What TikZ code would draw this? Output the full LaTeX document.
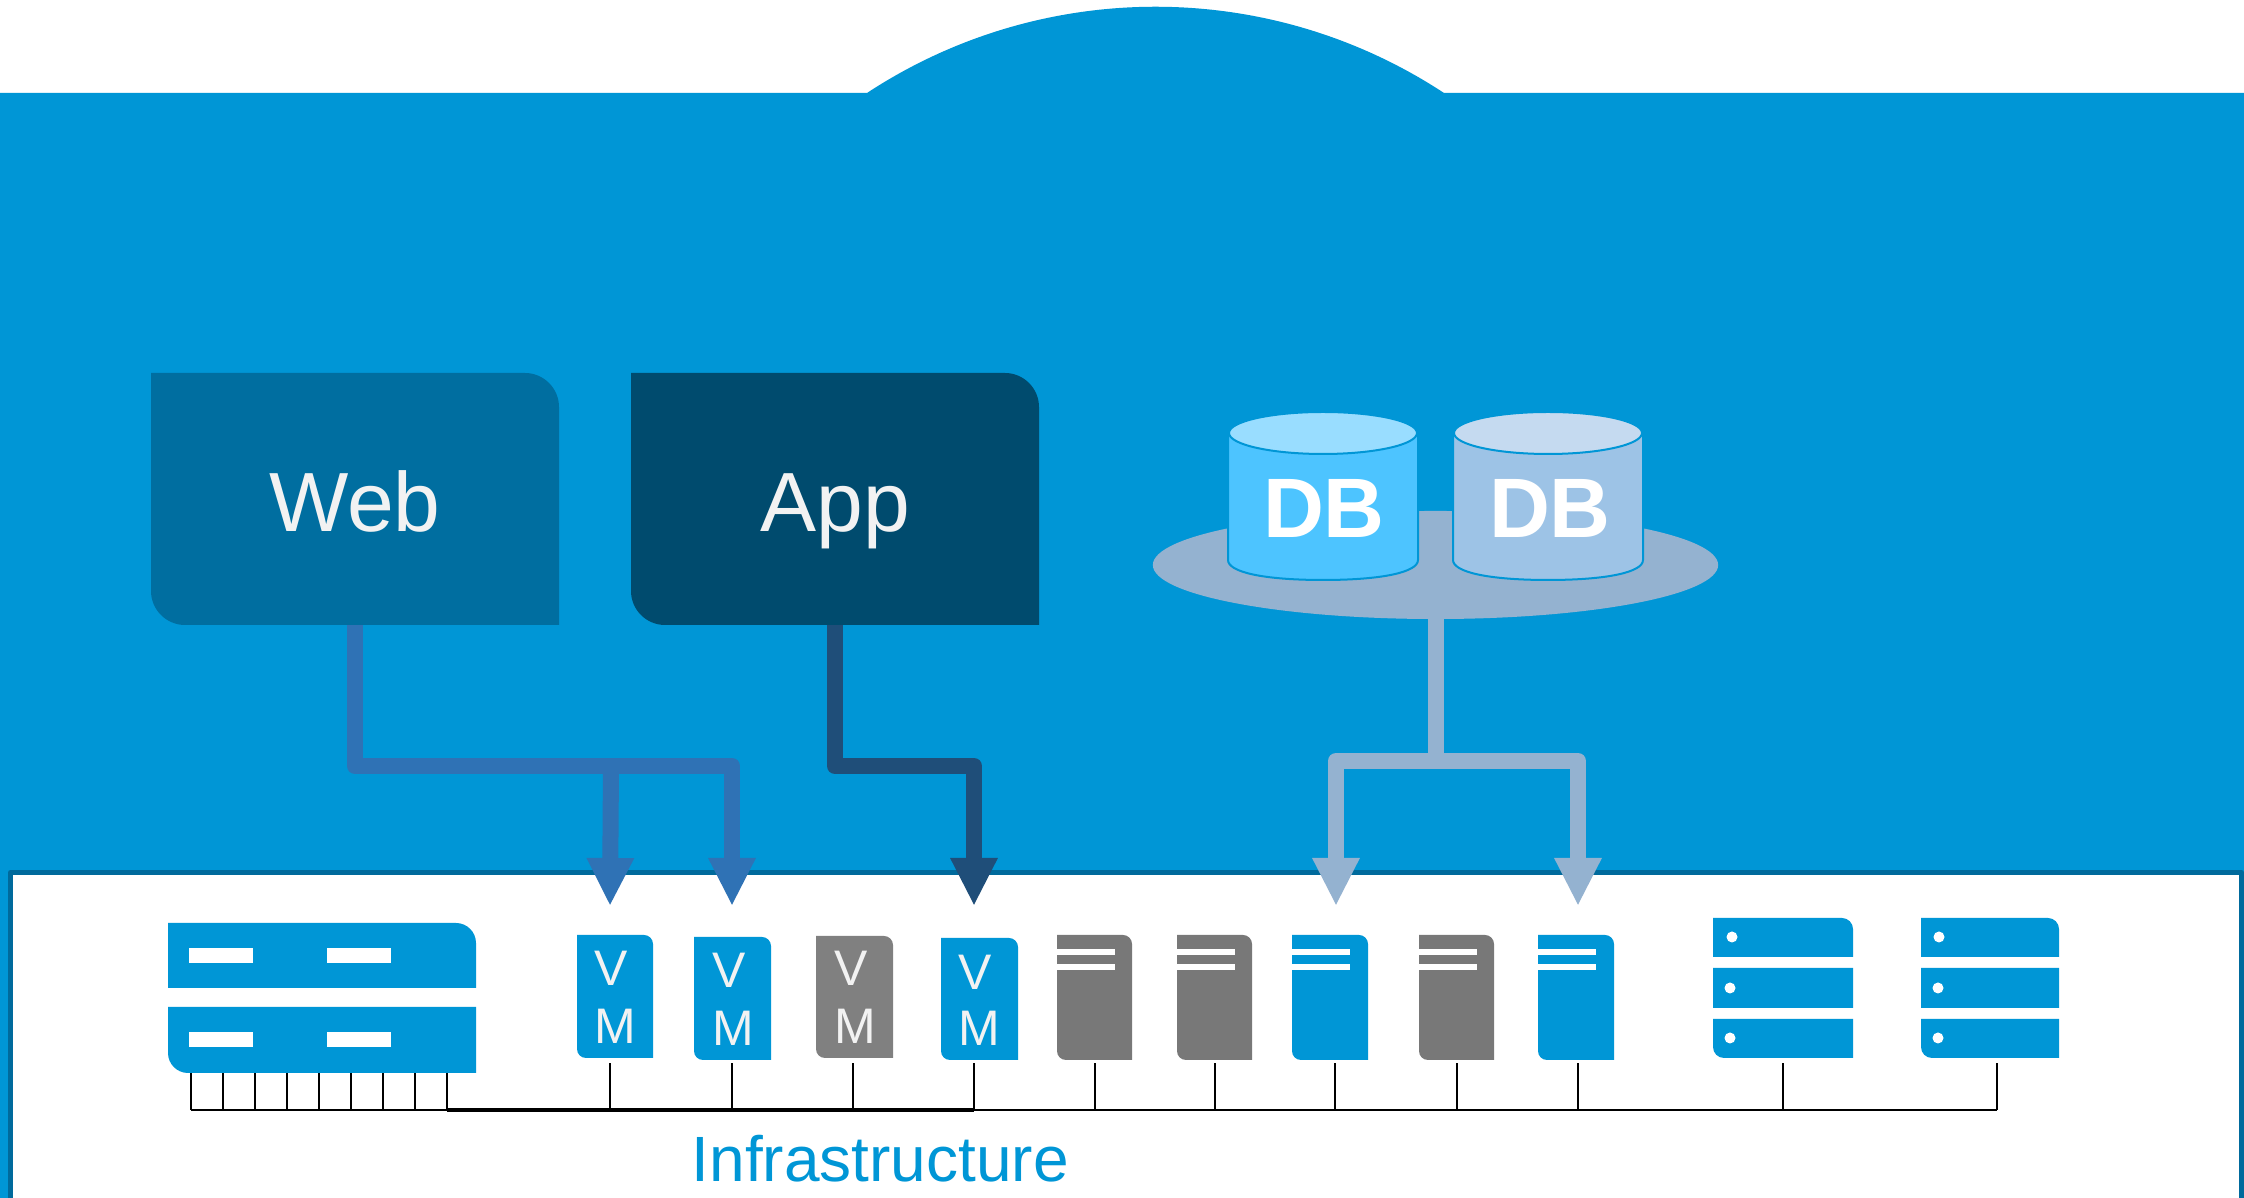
\documentclass[tikz,border=0pt]{standalone}
\usepackage{fontspec}
\setmainfont{Liberation Sans}
\usetikzlibrary{arrows.meta,shapes.geometric}
\definecolor{bgblue}{HTML}{0096D6}
\definecolor{edgeblue}{HTML}{006A9C}
\definecolor{webfill}{HTML}{006EA0}
\definecolor{appfill}{HTML}{004B6E}
\definecolor{webline}{HTML}{2F72B5}
\definecolor{appline}{HTML}{1F4E79}
\definecolor{dbline}{HTML}{94B2D0}
\definecolor{vmgray}{HTML}{808080}
\definecolor{srvgray}{HTML}{787878}
\definecolor{cylA}{HTML}{4DC4FF}
\definecolor{cylAtop}{HTML}{99DDFF}
\definecolor{cylB}{HTML}{9DC3E6}
\definecolor{cylBtop}{HTML}{C5DAF0}
\definecolor{softwhite}{HTML}{F2F2F2}
\tikzset{
  anchorbox/.style={inner sep=0pt,outer sep=0pt,draw=none,rectangle},
  bigtxt/.style={text=softwhite,text height=0.64cm,text depth=0pt,font=\fontsize{23.9}{24}\selectfont},
  vmtxt/.style={inner sep=0pt,text=softwhite,font=\fontsize{14.2}{15}\selectfont},
  dbtxt/.style={inner sep=0pt,text=white,font=\bfseries\fontsize{24}{25}\selectfont},
  slot/.style={fill=white,draw=none},
  conn/.style={line width=0.16cm,line join=round,-{Triangle[width=0.44cm,length=0.48cm]}},
  twoconn/.style={line width=0.16cm,line join=round,{Triangle[width=0.44cm,length=0.48cm]}-{Triangle[width=0.44cm,length=0.48cm]}},
  connplain/.style={line width=0.16cm,line join=round},
  tick/.style={draw=black,line width=0.02cm},
  cylout/.style={draw=bgblue,line width=0.02cm},
}
% name, x1, y1, x2, y2, top-right radius, bottom-left radius, colour, node text style, text
\newcommand{\tile}[9]{%
  \fill[#8] (#2,#3) -- ({#4-#6},#3) .. controls ({#4-0.45*#6},#3) and (#4,{#3+0.45*#6}) .. (#4,{#3+#6})
    -- (#4,#5) -- ({#2+#7},#5) .. controls ({#2+0.45*#7},#5) and (#2,{#5-0.45*#7}) .. (#2,{#5-#7}) -- cycle;
  \node[anchorbox,minimum width={(#4-#2)*0.01cm},minimum height={(#5-#3)*0.01cm},#9]
    (#1) at ({(#2+#4)/2},{(#3+#5)/2})}
\begin{document}
\begin{tikzpicture}[x=0.01cm,y=-0.01cm]
\useasboundingbox (0,0) rectangle (2244,1198);
\fill[white] (0,0) rectangle (2244,1198);
% blue background with bump
\fill[bgblue] (0,93) -- (867,93) .. controls (1042,-22) and (1269,-22) .. (1444,93)
  -- (2244,93) -- (2244,1198) -- (0,1198) -- cycle;
% infrastructure panel
\fill[white] (10.5,872.5) rectangle (2241.5,1198);
\draw[edgeblue,line width=0.05cm,line join=round] (10.5,1198) -- (10.5,872.5) -- (2241.5,872.5) -- (2241.5,1198);

% Web and App
\tile{web}{151}{373}{559}{625}{34}{34}{webfill}{bigtxt}{Web};
\tile{app}{631}{373}{1039}{625}{34}{34}{appfill}{bigtxt}{App};

% DB platter and cylinders
\node[ellipse,fill=dbline,draw=none,inner sep=0pt,outer sep=0pt,minimum width=5.65cm,minimum height=1.08cm] (platter) at (1435.5,565) {};
\draw[cylout,fill=cylA] (1228,433) -- (1228,560) .. controls (1228,572) and (1263,580) .. (1323,580)
  .. controls (1383,580) and (1418,572) .. (1418,560) -- (1418,433) -- cycle;
\draw[cylout,fill=cylAtop] (1323,433) ellipse [x radius=94,y radius=21];
\node[dbtxt] (db1) at (1324,508) {DB};
\draw[cylout,fill=cylB] (1453,433) -- (1453,560) .. controls (1453,572) and (1488,580) .. (1548,580)
  .. controls (1608,580) and (1643,572) .. (1643,560) -- (1643,433) -- cycle;
\draw[cylout,fill=cylBtop] (1548,433) ellipse [x radius=94,y radius=21];
\node[dbtxt] (db2) at (1550,508) {DB};

% switch
\tile{swtop}{168}{923}{476}{988}{20}{0}{bgblue}{}{};
\tile{swlow}{168}{1007}{476}{1073}{0}{20}{bgblue}{}{};
\foreach \x in {189,327}{
  \fill[slot] (\x,948) rectangle ++(64,15);
  \fill[slot] (\x,1032) rectangle ++(64,15);
}

% VMs
\tile{vma}{577}{935}{653}{1058}{9}{9}{bgblue}{}{};
\tile{vmb}{694}{937}{771}{1060}{9}{9}{bgblue}{}{};
\tile{vmc}{816}{936}{893}{1058}{9}{9}{vmgray}{}{};
\tile{vmd}{941}{938}{1018}{1060}{9}{9}{bgblue}{}{};
\node[vmtxt] (vmaV) at (611,968) {V}; \node[vmtxt] (vmaM) at (615,1026) {M};
\node[vmtxt] (vmbV) at (729,970) {V}; \node[vmtxt] (vmbM) at (733,1028) {M};
\node[vmtxt] (vmcV) at (851,968) {V}; \node[vmtxt] (vmcM) at (855,1026) {M};
\node[vmtxt] (vmdV) at (975,972) {V}; \node[vmtxt] (vmdM) at (979,1028) {M};

% servers
\tile{sa}{1057}{935}{1132}{1060}{9}{9}{srvgray}{}{};
\tile{sb}{1177}{935}{1252}{1060}{9}{9}{srvgray}{}{};
\tile{sc}{1292}{935}{1368}{1060}{9}{9}{bgblue}{}{};
\tile{sd}{1419}{935}{1494}{1060}{9}{9}{srvgray}{}{};
\tile{se}{1538}{935}{1614}{1060}{9}{9}{bgblue}{}{};
\foreach \x in {1057,1177,1292,1419,1538}{
  \fill[slot] (\x,949) rectangle ++(58,6);
  \fill[slot] (\x,964) rectangle ++(58,6);
}

% racks
\tile{ra}{1713}{918}{1853}{957}{11}{0}{bgblue}{}{};
\tile{rb}{1713}{968}{1853}{1008}{0}{0}{bgblue}{}{};
\tile{rc}{1713}{1019}{1853}{1058}{0}{11}{bgblue}{}{};
\tile{rd}{1921}{918}{2059}{957}{11}{0}{bgblue}{}{};
\tile{re}{1921}{968}{2059}{1008}{0}{0}{bgblue}{}{};
\tile{rf}{1921}{1019}{2059}{1058}{0}{11}{bgblue}{}{};
\foreach \x/\y in {1732/937,1730/988,1730/1038,1939/937,1938/988,1938/1038}{
  \fill[white] (\x,\y) circle [radius=5.5];
}

% bus and ticks
\coordinate (busL) at (191,1110);
\coordinate (busA) at (255,1110);
\coordinate (busM) at (447,1110);
\coordinate (busB) at (974,1110);
\coordinate (busC) at (1578,1110);
\coordinate (busR) at (1997,1110);
\draw[black,line width=0.02cm] (busL) -- (busR);
\draw[black,line width=0.025cm] (busA) -- (busM);
\draw[black,line width=0.04cm] (busM) -- (busB);
\draw[black,line width=0.028cm] (busB) -- (busC);
\foreach \x in {191,223,255,287,319,351,383,415,447}{
  \coordinate (sb\x) at (\x,1110);
  \draw[tick] (sb\x) -- (sb\x |- swlow.south);
}
\foreach \x in {610,732,853,974,1095,1215,1335,1457,1578,1783,1997}{
  \coordinate (hb\x) at (\x,1110);
  \coordinate (ht\x) at (\x,1063);
  \draw[tick] (hb\x) -- (ht\x);
}

% connectors
\coordinate (tipA) at (610,906);
\coordinate (tipB) at (732,906);
\coordinate (tipC) at (974,906);
\coordinate (tipD) at (1336,906);
\coordinate (tipE) at (1578,906);
\coordinate (webJ) at (611,766);
\coordinate (webT) at (732,766);
\coordinate (appT) at (974,766);
\coordinate (dbJ) at (1336,761);
\coordinate (dbK) at (1578,761);
\draw[webline,conn] (web.south) |- (webT) -- (tipB);
\draw[webline,conn] (webJ) -- (tipA);
\draw[appline,conn] (app.south) |- (appT) -- (tipC);
\draw[dbline,connplain] (platter.south) -- (platter.south |- dbJ);
\draw[dbline,twoconn] (tipD) -- (dbJ) -- (dbK) -- (tipE);

% label
\node[anchor=base west,inner sep=0pt,text=bgblue,font=\fontsize{18.2}{19}\selectfont] (infra) at (691,1182) {Infrastructure};
\end{tikzpicture}
\end{document}
